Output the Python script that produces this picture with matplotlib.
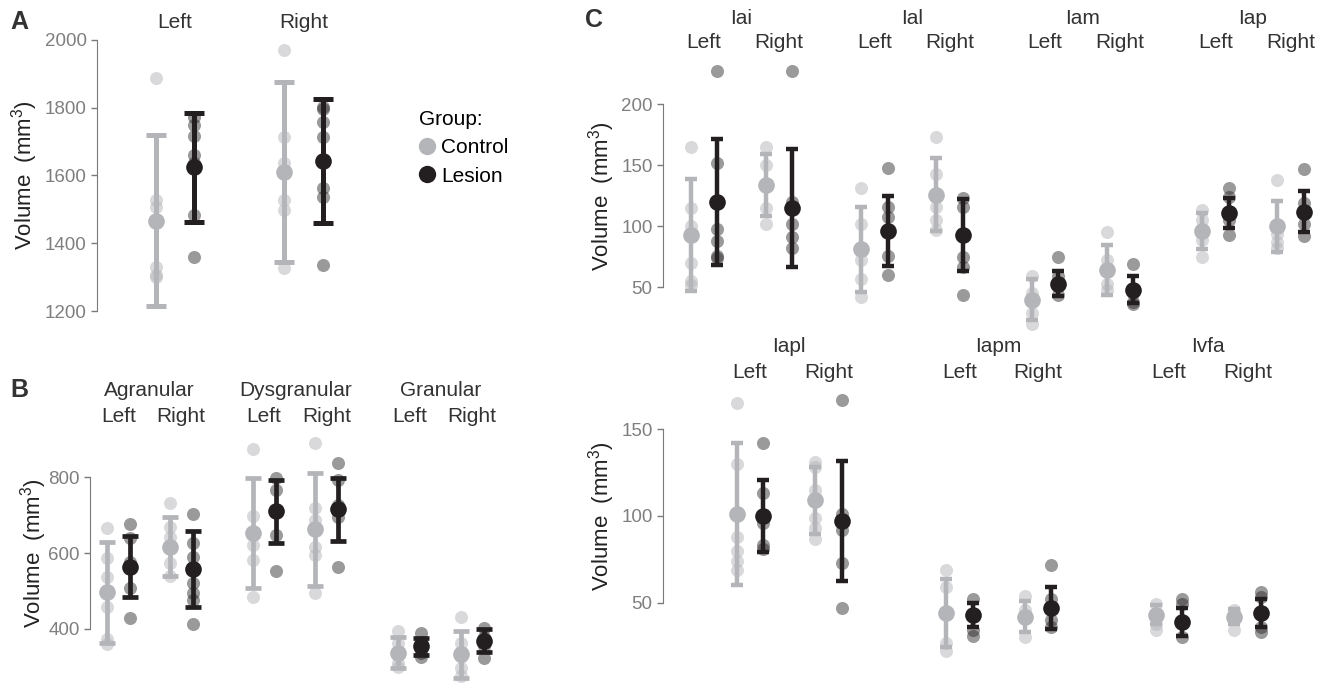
import matplotlib
matplotlib.use("Agg")
import matplotlib.pyplot as plt
from matplotlib.lines import Line2D
from matplotlib.transforms import blended_transform_factory

plt.rcParams['font.family'] = ['Liberation Sans', 'DejaVu Sans']
plt.rcParams['mathtext.fontset'] = 'custom'
plt.rcParams['mathtext.rm'] = 'Liberation Sans'
plt.rcParams['mathtext.default'] = 'regular'

HEMIS = ["Left", "Right"]

# panel A: whole insula
A_REGIONS = [""]
A_CTRL_PTS = [[[1889, 1528, 1508, 1331, 1301, 1306], [1970, 1715, 1638, 1528, 1498, 1326]]]
A_CTRL_MEAN = [[1467, 1611]]
A_CTRL_SD = [[252, 265]]
A_LES_PTS = [[[1774, 1749, 1717, 1661, 1636, 1483, 1360], [1803, 1795, 1759, 1715, 1562, 1537, 1336]]]
A_LES_MEAN = [[1624, 1643]]
A_LES_SD = [[161, 184]]
A_TICKS = [1200, 1400, 1600, 1800, 2000]

# panel B: cytoarchitectonic subdivisions
B_REGIONS = ["Agranular", "Dysgranular", "Granular"]
B_CTRL_PTS = [[[665, 586, 536, 458, 372, 360], [733, 670, 643, 573, 538]],
              [[874, 698, 621, 582, 483], [890, 718, 687, 617, 595, 494]],
              [[395, 361, 309, 298], [432, 361, 326, 296, 275]]]
B_CTRL_MEAN = [[496, 617], [652, 663], [337, 333]]
B_CTRL_SD = [[134, 79], [145, 149], [40, 62]]
B_LES_PTS = [[[677, 639, 577, 507, 428], [703, 626, 590, 520, 494, 476, 413]],
             [[797, 766, 713, 648, 553], [839, 793, 727, 696, 562]],
             [[388, 366, 335, 325], [401, 379, 353, 322]]]
B_LES_MEAN = [[564, 557], [710, 715], [353, 368]]
B_LES_SD = [[80, 100], [84, 84], [22, 30]]
B_TICKS = [400, 600, 800]

# panel C, top row
C1_REGIONS = ["Iai", "Ial", "Iam", "Iap"]
C1_CTRL_PTS = [[[165, 115, 100, 70, 55, 52], [165, 150, 115, 102]],
               [[131, 102, 72, 57, 42], [173, 143, 116, 105, 97]],
               [[59, 45, 29, 20], [95, 72, 53, 48]],
               [[113, 105, 89, 75], [138, 94, 87, 82]]]
C1_CTRL_MEAN = [[93, 134], [81, 126], [40, 64], [96, 100]]
C1_CTRL_SD = [[46, 25.5], [34.5, 30], [17, 20.5], [15, 21]]
C1_LES_PTS = [[[227, 152, 98, 88, 76, 74], [227, 120, 102, 91, 82]],
              [[148, 116, 108, 76, 60], [123, 116, 75, 67, 44]],
              [[75, 59, 44], [69, 45, 38, 36]],
              [[131, 124, 105, 93], [147, 119, 102, 92]]]
C1_LES_MEAN = [[120, 115], [96, 93], [53, 48], [111, 112]]
C1_LES_SD = [[51.5, 48.5], [28.5, 29.5], [10, 11], [12.5, 17]]
C1_TICKS = [50, 100, 150, 200]

# panel C, bottom row
C2_REGIONS = ["Iapl", "Iapm", "Ivfa"]
C2_CTRL_PTS = [[[165, 130, 88, 80, 74, 69], [131, 128, 115, 99, 93, 87]],
               [[69, 59, 27, 22], [54, 46, 30]],
               [[49, 38, 34], [46, 34]]]
C2_CTRL_MEAN = [[101, 109], [44, 42], [43, 42]]
C2_CTRL_SD = [[41, 19.5], [19.5, 9], [5.5, 4.5]]
C2_LES_PTS = [[[142, 113, 96, 83, 81], [167, 101, 92, 73, 47]],
              [[52, 34, 31], [72, 52, 40, 36]],
              [[52, 49, 30], [56, 53, 36, 33]]]
C2_LES_MEAN = [[100, 97], [43, 47], [39, 44]]
C2_LES_SD = [[20.5, 34.5], [7, 12], [8, 8]]
C2_TICKS = [50, 100, 150]

CTRL = '#b4b5b9'
LES = '#231f20'
W, H = 1339, 683

fig = plt.figure(figsize=(W / 100, H / 100), dpi=100)


def draw_panel(box, ycal, ticks, spacing, regions, cp, cm, cs, lp, lm, ls,
               region_y, hemi_y, label_x, cap, lw):
    left, right, top, bottom = box
    ax = fig.add_axes([left / W, 1 - bottom / H, (right - left) / W, (bottom - top) / H])
    (v1, p1), (v2, p2) = ycal
    ppu = (p2 - p1) / (v1 - v2)
    ax.set_ylim(v2 - (bottom - p2) / ppu, v1 + (p1 - top) / ppu)
    grp, hemi_px, reg_px, first = spacing
    ax.set_xlim(-(first - left) / grp, (right - first) / grp)
    hstep = hemi_px / grp
    rstep = reg_px / grp
    tr = blended_transform_factory(ax.transData, fig.transFigure)

    for r, reg in enumerate(regions):
        if reg:
            ax.text(r * rstep + hstep / 2, 1 - region_y / H, reg, transform=tr,
                    ha='center', va='center', fontsize=15, color='#333333')
        for h, hemi in enumerate(HEMIS):
            xc = r * rstep + h * hstep
            ax.text(xc, 1 - hemi_y / H, hemi, transform=tr,
                    ha='center', va='center', fontsize=15, color='#333333')
            for off, pts, mean, sd, col, al in [(-0.5, cp[r][h], cm[r][h], cs[r][h], CTRL, 0.5),
                                                (0.5, lp[r][h], lm[r][h], ls[r][h], LES, 0.45)]:
                ax.plot([xc + off] * len(pts), pts, 'o', color=col, alpha=al,
                        ms=9.4, mec='none', zorder=2)
                ax.errorbar(xc + off, mean, yerr=sd, fmt='none', ecolor=col,
                            elinewidth=lw, capsize=cap, capthick=lw, zorder=3)
                ax.plot(xc + off, mean, 'o', color=col, ms=12, mec='none', zorder=4)

    for s in ['top', 'right', 'bottom']:
        ax.spines[s].set_visible(False)
    ax.spines['left'].set_bounds(ticks[0], ticks[-1])
    ax.spines['left'].set_color('#7a7a7a')
    ax.set_xticks([])
    ax.set_yticks(ticks)
    ax.tick_params(axis='y', colors='#7a7a7a', labelcolor='#7f7f7f',
                   labelsize=13.5, length=4, width=1)
    ax.set_ylabel('Volume  (mm$^3$)', fontsize=16, color='#222222')
    mid = (p1 + p2) / 2
    ax.yaxis.set_label_coords((label_x - left) / (right - left), 1 - (mid - top) / (bottom - top))
    return ax


draw_panel((97, 400, 30, 322), ((2000, 40), (1200, 311)), A_TICKS,
           (38.5, 128.5, 0, 175), A_REGIONS,
           A_CTRL_PTS, A_CTRL_MEAN, A_CTRL_SD, A_LES_PTS, A_LES_MEAN, A_LES_SD,
           0, 22, 40, 7, 3.6)

draw_panel((90, 505, 432, 683), ((800, 477.3), (400, 628.7)), B_TICKS,
           (23, 62.5, 145.5, 118.5), B_REGIONS,
           B_CTRL_PTS, B_CTRL_MEAN, B_CTRL_SD, B_LES_PTS, B_LES_MEAN, B_LES_SD,
           390, 416, 49, 5.5, 3.4)

draw_panel((663, 1339, 55, 332), ((200, 104.3), (50, 287.3)), C1_TICKS,
           (26.5, 75, 170.5, 704), C1_REGIONS,
           C1_CTRL_PTS, C1_CTRL_MEAN, C1_CTRL_SD, C1_LES_PTS, C1_LES_MEAN, C1_LES_SD,
           18, 43, 617, 4.6, 3.2)

draw_panel((663, 1339, 380, 683), ((150, 429.3), (50, 602.7)), C2_TICKS,
           (26.5, 78.5, 209.5, 750), C2_REGIONS,
           C2_CTRL_PTS, C2_CTRL_MEAN, C2_CTRL_SD, C2_LES_PTS, C2_LES_MEAN, C2_LES_SD,
           347, 372, 617, 4.6, 3.2)

# legend
handles = [Line2D([], [], ls='none', marker='o', ms=12.5, color=CTRL, mec='none'),
           Line2D([], [], ls='none', marker='o', ms=12.5, color=LES, mec='none')]
fig.legend(handles, ['Control', 'Lesion'], loc='upper left',
           bbox_to_anchor=(419 / W, 1 - 110 / H), frameon=False, title='Group:',
           alignment='left', fontsize=15, title_fontsize=15, handlelength=0.8,
           handletextpad=0.25, labelspacing=0.45, borderpad=0, borderaxespad=0)

for letter, x, y in [('A', 10, 22), ('B', 10, 390), ('C', 585, 20)]:
    fig.text(x / W, 1 - y / H, letter, fontsize=18, fontweight='bold',
             color='#333333', va='center', ha='left')

fig.savefig('out.png', dpi=100)
